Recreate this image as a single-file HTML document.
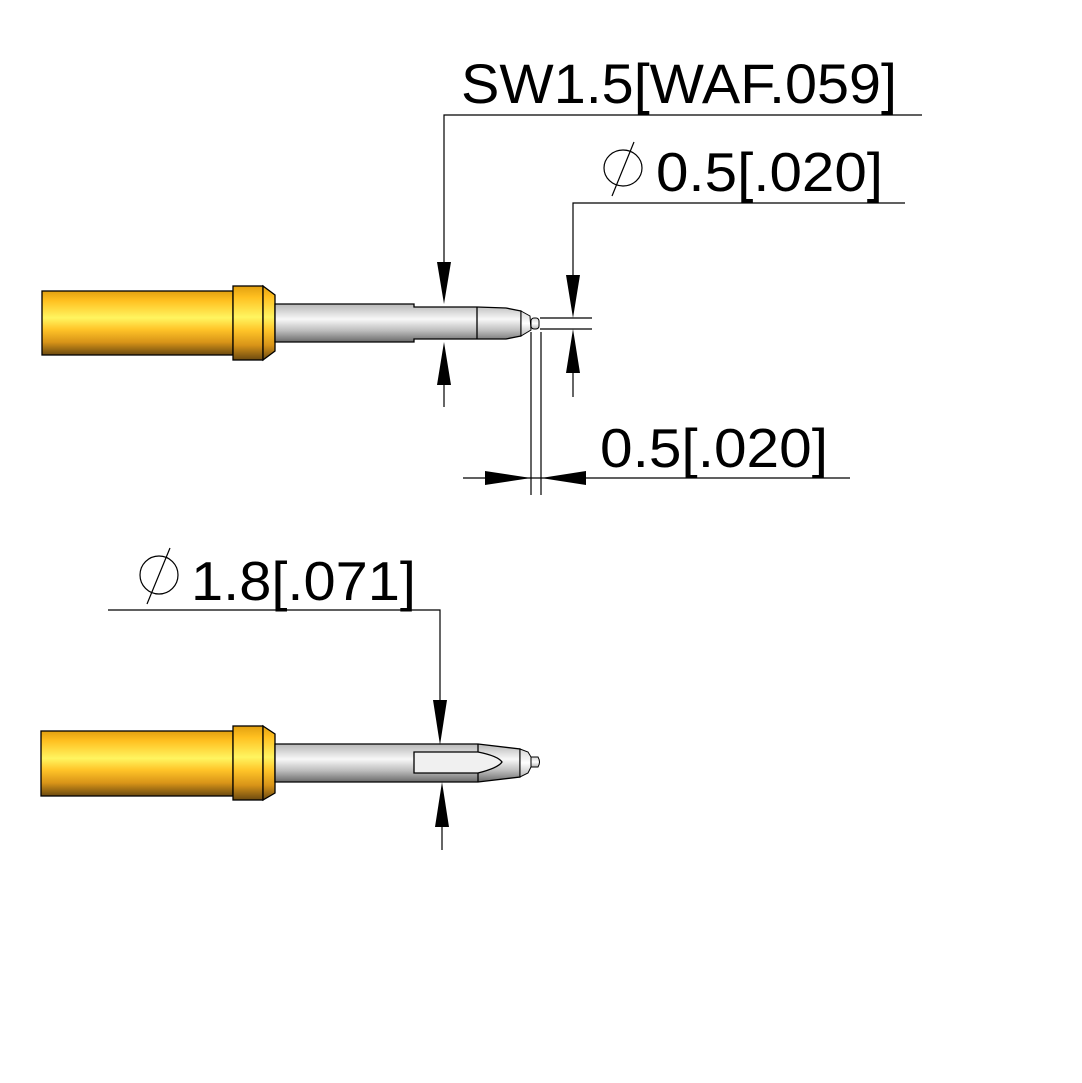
<!DOCTYPE html>
<html><head><meta charset="utf-8"><style>
html,body{margin:0;padding:0;background:#fff;width:1082px;height:1083px;overflow:hidden}
svg{display:block}
text{font-family:"Liberation Sans",sans-serif;fill:#000}
</style></head><body>
<svg width="1082" height="1083" viewBox="0 0 1082 1083" xmlns="http://www.w3.org/2000/svg">
<defs>
<linearGradient id="gold" x1="0" y1="0" x2="0" y2="1">
<stop offset="0" stop-color="#e2a010"/>
<stop offset="0.15" stop-color="#ffc020"/>
<stop offset="0.42" stop-color="#fff560"/>
<stop offset="0.6" stop-color="#ffc428"/>
<stop offset="0.8" stop-color="#d89418"/>
<stop offset="1" stop-color="#6b4a10"/>
</linearGradient>
<linearGradient id="silver" x1="0" y1="0" x2="0" y2="1">
<stop offset="0" stop-color="#b8b8b8"/>
<stop offset="0.15" stop-color="#cfcfcf"/>
<stop offset="0.4" stop-color="#f8f8f8"/>
<stop offset="0.7" stop-color="#bdbdbd"/>
<stop offset="1" stop-color="#6a6a6a"/>
</linearGradient>
<linearGradient id="light" x1="0" y1="0" x2="0" y2="1">
<stop offset="0" stop-color="#d8d8d8"/>
<stop offset="0.5" stop-color="#ffffff"/>
<stop offset="1" stop-color="#b8b8b8"/>
</linearGradient>
</defs>
<g stroke="#000" stroke-width="1.3">
<rect x="42" y="291" width="191" height="64" fill="url(#gold)"/>
<rect x="233" y="286" width="30" height="74" fill="url(#gold)"/>
<polygon points="263,286 275,295 275,351 263,360" fill="url(#gold)"/>
<polygon points="275,304 414,304 414,307 477,307 506,308 521,311 521,336 506,339 477,339 414,339 414,342 275,342" fill="url(#silver)"/>
<line x1="477" y1="307" x2="477" y2="339"/>
<path d="M521,311 L530,316 L531,330 L521,336 Z" fill="url(#light)" stroke-width="1"/>
<rect x="531" y="318" width="8" height="11" rx="3" fill="url(#light)" stroke-width="1"/>
<rect x="41" y="731" width="192" height="65" fill="url(#gold)"/>
<rect x="233" y="726" width="30" height="74" fill="url(#gold)"/>
<polygon points="263,726 275,734 275,793 263,800" fill="url(#gold)"/>
<polygon points="275,744 478,744 520,749 520,777 478,782 275,782" fill="url(#silver)"/>
<line x1="478" y1="744" x2="478" y2="782"/>
<path d="M414,752 L478,752 Q498,756 502,762 Q498,768 478,773 L414,773 Z" fill="#f0f0f0"/>
<path d="M520,749 L528,752 L531,757 L531,767 L528,773 L520,777 Z" fill="url(#light)" stroke-width="1"/>
<path d="M531,757 L538,757 Q541,762 538,767 L531,767 Z" fill="url(#light)" stroke-width="1"/>
</g>
<g stroke="#000" stroke-width="1.2" fill="none">
<polyline points="922,115 444,115 444,262"/>
<line x1="444" y1="385" x2="444" y2="407"/>
<polyline points="905,203 573,203 573,275"/>
<line x1="573" y1="373" x2="573" y2="397"/>
<line x1="540" y1="318" x2="592" y2="318"/>
<line x1="540" y1="329" x2="592" y2="329"/>
<line x1="531" y1="332" x2="531" y2="495"/>
<line x1="541" y1="332" x2="541" y2="495"/>
<line x1="463" y1="478" x2="850" y2="478"/>
<polyline points="108,610 440,610 440,700"/>
<line x1="442" y1="827" x2="442" y2="850"/>
<ellipse cx="623" cy="168" rx="19" ry="18"/>
<line x1="634" y1="142" x2="612" y2="196"/>
<ellipse cx="159" cy="575" rx="19" ry="19"/>
<line x1="170" y1="548" x2="147" y2="604"/>
</g>
<g fill="#000">
<polygon points="437,262 451,262 444,304"/>
<polygon points="437,385 451,385 444,342"/>
<polygon points="566,275 580,275 573,318"/>
<polygon points="566,373 580,373 573,329"/>
<polygon points="485,471 485,485 531,478"/>
<polygon points="586,471 586,485 541,478"/>
<polygon points="433,700 447,700 440,745"/>
<polygon points="435,827 449,827 442,782"/>
</g>
<text x="461" y="103" font-size="56" textLength="436" lengthAdjust="spacingAndGlyphs">SW1.5[WAF.059]</text>
<text x="656" y="191" font-size="55" textLength="227" lengthAdjust="spacingAndGlyphs">0.5[.020]</text>
<text x="600" y="467" font-size="55" textLength="228" lengthAdjust="spacingAndGlyphs">0.5[.020]</text>
<text x="191" y="600" font-size="55" textLength="225" lengthAdjust="spacingAndGlyphs">1.8[.071]</text>
</svg>
</body></html>
